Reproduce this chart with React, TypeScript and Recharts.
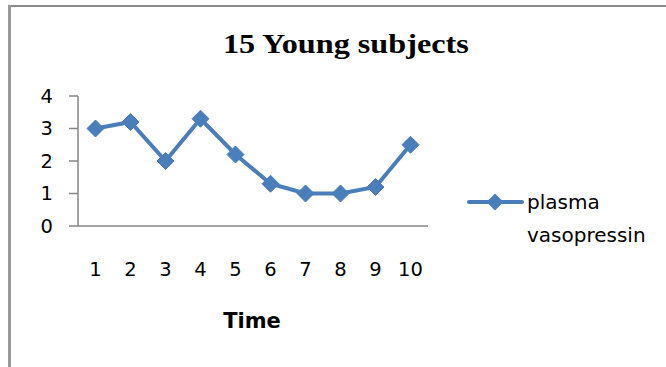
import React from "react";
import { LineChart, Line, XAxis, YAxis } from "recharts";

const categories = ["1", "2", "3", "4", "5", "6", "7", "8", "9", "10"];
const vasopressin = [3.0, 3.2, 2.0, 3.3, 2.2, 1.3, 1.0, 1.0, 1.2, 2.5];
const yTicks = [0, 1, 2, 3, 4];
const seriesLines = ["plasma", "vasopressin"];
const title = "15 Young subjects";
const xTitle = "Time";

const data = categories.map((c, i) => ({ time: c, value: vasopressin[i] }));

const BLUE = "#4A7EBB";
const AXIS = "#868686";
const FONT = "'DejaVu Sans', 'Noto Sans', sans-serif";

const Diamond = (props: any) => {
  const { cx, cy } = props;
  if (cx == null || cy == null) return null;
  const r = 8.5;
  return (
    <polygon
      points={`${cx},${cy - r} ${cx + r},${cy} ${cx},${cy + r} ${cx - r},${cy}`}
      fill={BLUE}
      stroke={BLUE}
      strokeWidth={1}
    />
  );
};

export default function App() {
  return (
    <div style={{ position: "absolute", left: 0, top: 0, width: 666, height: 367, background: "#fff", overflow: "hidden" }}>
      <div style={{ position: "absolute", left: 8, top: 5, width: 658, height: 2, background: "#8a8a8a" }} />
      <div style={{ position: "absolute", left: 8, top: 5, width: 3, height: 362, background: "#999" }} />
      <div
        style={{
          position: "absolute",
          left: 238,
          width: 200,
          top: 27,
          textAlign: "center",
          whiteSpace: "nowrap",
          fontFamily: "'Liberation Serif', 'Times New Roman', serif",
          fontWeight: "bold",
          fontSize: 28,
          lineHeight: "34px",
          transform: "scaleX(1.15)",
        }}
      >
        {title}
      </div>
      <div
        style={{
          position: "absolute",
          left: 202,
          width: 100,
          top: 308,
          textAlign: "center",
          fontFamily: FONT,
          fontWeight: "bold",
          fontSize: 21,
          lineHeight: "26px",
        }}
      >
        {xTitle}
      </div>
      <div style={{ position: "absolute", left: 0, top: 0 }}>
        <LineChart width={666} height={367} data={data} margin={{ top: 96, right: 238, bottom: 111, left: 38 }}>
          <XAxis
            dataKey="time"
            height={30}
            padding={{ left: 17.5, right: 17.5 }}
            tickLine={false}
            tickSize={0}
            tickMargin={36}
            axisLine={{ stroke: AXIS, strokeWidth: 1.5 }}
            tick={{ fill: "#000", fontFamily: FONT, fontSize: 19.5 }}
            interval={0}
          />
          <YAxis
            width={40}
            domain={[0, 4]}
            ticks={yTicks}
            interval={0}
            tickSize={9}
            tickMargin={16}
            axisLine={{ stroke: AXIS, strokeWidth: 1.5 }}
            tickLine={{ stroke: AXIS, strokeWidth: 1.5 }}
            tick={{ fill: "#000", fontFamily: FONT, fontSize: 19.5 }}
          />
          <Line
            type="linear"
            dataKey="value"
            stroke={BLUE}
            strokeWidth={4}
            dot={<Diamond />}
            activeDot={false}
            isAnimationActive={false}
          />
        </LineChart>
      </div>
      <svg width={60} height={20} style={{ position: "absolute", left: 466, top: 192 }}>
        <line x1={3} y1={10} x2={56} y2={10} stroke={BLUE} strokeWidth={4} strokeLinecap="round" />
        <polygon points="29,1.5 37.5,10 29,18.5 20.5,10" fill={BLUE} />
      </svg>
      <div
        style={{
          position: "absolute",
          left: 527,
          top: 186,
          fontFamily: FONT,
          fontSize: 20,
          lineHeight: "33px",
          color: "#000",
          whiteSpace: "nowrap",
        }}
      >
        {seriesLines[0]}
        <br />
        {seriesLines[1]}
      </div>
    </div>
  );
}
